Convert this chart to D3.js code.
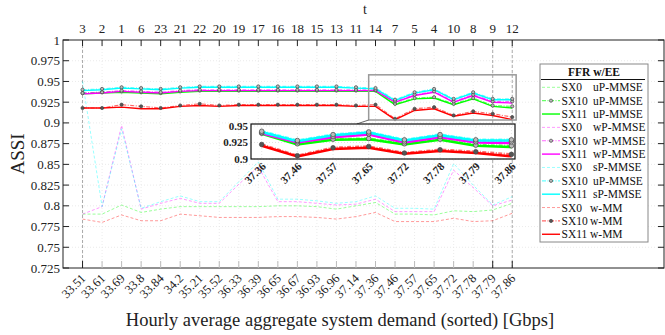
<!DOCTYPE html>
<html>
<head>
<meta charset="utf-8">
<script src="https://cdn.jsdelivr.net/npm/d3@7"></script>
<style>
  body { margin: 0; background: #fff; }
  svg { display: block; font-family: 'Liberation Serif', 'Times New Roman', serif; }
</style>
</head>
<body>
<div id="chart"></div>
<script>
// categories
const demand = ['33.51', '33.61', '33.69', '33.8', '33.84', '34.2', '35.21', '35.52', '36.33', '36.39', '36.65', '36.67',
  '36.93', '36.96', '37.14', '37.36', '37.46', '37.57', '37.65', '37.72', '37.78', '37.79', '37.86']
const hours = [3, 2, 1, 6, 23, 21, 22, 20, 19, 17, 16, 18, 15, 13, 11, 14, 7, 5, 4, 10, 8, 9, 12]
const yTicks = [0.725, 0.75, 0.775, 0.8, 0.825, 0.85, 0.875, 0.9, 0.925, 0.95, 0.975, 1]
const insetTicks = [0.9, 0.925, 0.95]

// series values (ASSI)
const uP_SX0 = [0.790, 0.790, 0.801, 0.792, 0.796, 0.799, 0.799, 0.799, 0.799, 0.799, 0.800, 0.800, 0.799, 0.796, 0.800, 0.804, 0.790, 0.790, 0.789, 0.794, 0.793, 0.795, 0.803]
const wP_SX0 = [0.790, 0.799, 0.897, 0.796, 0.803, 0.809, 0.803, 0.803, 0.826, 0.847, 0.805, 0.805, 0.803, 0.801, 0.802, 0.808, 0.793, 0.793, 0.793, 0.843, 0.822, 0.800, 0.807]
const sP_SX0 = [0.950, 0.799, 0.893, 0.797, 0.805, 0.812, 0.805, 0.805, 0.829, 0.853, 0.808, 0.808, 0.806, 0.803, 0.805, 0.812, 0.797, 0.797, 0.796, 0.851, 0.825, 0.801, 0.811]
const mm_SX0 = [0.784, 0.780, 0.789, 0.782, 0.782, 0.790, 0.788, 0.786, 0.786, 0.786, 0.787, 0.787, 0.786, 0.784, 0.787, 0.792, 0.781, 0.781, 0.781, 0.785, 0.781, 0.782, 0.791]

const uP_SX10 = [0.936, 0.937, 0.938, 0.937, 0.936, 0.938, 0.939, 0.939, 0.939, 0.939, 0.939, 0.939, 0.939, 0.939, 0.939, 0.939, 0.923, 0.930, 0.931, 0.923, 0.930, 0.921, 0.920]
const uP_SX11 = [0.935, 0.936, 0.937, 0.936, 0.935, 0.937, 0.938, 0.938, 0.938, 0.938, 0.938, 0.938, 0.938, 0.938, 0.938, 0.938, 0.922, 0.929, 0.930, 0.922, 0.929, 0.920, 0.918]
const wP_SX10 = [0.936, 0.937, 0.939, 0.938, 0.937, 0.939, 0.940, 0.940, 0.940, 0.940, 0.940, 0.940, 0.940, 0.940, 0.940, 0.940, 0.926, 0.934, 0.938, 0.926, 0.934, 0.926, 0.926]
const wP_SX11 = [0.935, 0.936, 0.938, 0.937, 0.936, 0.938, 0.939, 0.939, 0.939, 0.939, 0.939, 0.939, 0.939, 0.939, 0.939, 0.939, 0.925, 0.933, 0.937, 0.925, 0.933, 0.925, 0.924]
const sP_SX10 = [0.940, 0.941, 0.943, 0.942, 0.941, 0.943, 0.944, 0.944, 0.944, 0.944, 0.944, 0.944, 0.944, 0.944, 0.943, 0.942, 0.928, 0.937, 0.941, 0.929, 0.937, 0.929, 0.929]
const sP_SX11 = [0.939, 0.940, 0.942, 0.941, 0.940, 0.942, 0.943, 0.943, 0.943, 0.943, 0.943, 0.943, 0.943, 0.943, 0.942, 0.941, 0.927, 0.936, 0.940, 0.928, 0.936, 0.928, 0.928]
const mm_SX10 = [0.918, 0.918, 0.922, 0.920, 0.918, 0.921, 0.923, 0.921, 0.922, 0.922, 0.922, 0.922, 0.922, 0.922, 0.921, 0.922, 0.905, 0.917, 0.919, 0.909, 0.914, 0.911, 0.907]
const mm_SX11 = [0.918, 0.918, 0.919, 0.917, 0.917, 0.920, 0.921, 0.920, 0.921, 0.921, 0.921, 0.921, 0.921, 0.921, 0.920, 0.920, 0.904, 0.915, 0.917, 0.908, 0.912, 0.909, 0.904]

// legend order
const series = [
  { sx: 'SX0', name: 'uP-MMSE', values: uP_SX0, color: '#00ff00', kind: 0 },
  { sx: 'SX10', name: 'uP-MMSE', values: uP_SX10, color: '#00ff00', kind: 1 },
  { sx: 'SX11', name: 'uP-MMSE', values: uP_SX11, color: '#00ff00', kind: 2 },
  { sx: 'SX0', name: 'wP-MMSE', values: wP_SX0, color: '#ff00ff', kind: 0 },
  { sx: 'SX10', name: 'wP-MMSE', values: wP_SX10, color: '#ff00ff', kind: 1 },
  { sx: 'SX11', name: 'wP-MMSE', values: wP_SX11, color: '#ff00ff', kind: 2 },
  { sx: 'SX0', name: 'sP-MMSE', values: sP_SX0, color: '#00ffff', kind: 0 },
  { sx: 'SX10', name: 'uP-MMSE', values: sP_SX10, color: '#00ffff', kind: 1 },
  { sx: 'SX11', name: 'sP-MMSE', values: sP_SX11, color: '#00ffff', kind: 2 },
  { sx: 'SX0', name: 'w-MM', values: mm_SX0, color: '#ff0000', kind: 0 },
  { sx: 'SX10', name: 'w-MM', values: mm_SX10, color: '#ff0000', kind: 1 },
  { sx: 'SX11', name: 'w-MM', values: mm_SX11, color: '#ff0000', kind: 2 },
]
const markedIdx = [0, 21, 22] // categories with dashed guide lines

// size
const W = 665, H = 335
const plot = { left: 63, right: 664, top: 40, bottom: 268 }

// scale
const x = d3.scaleLinear().domain([0, 30.77]).range([plot.left, plot.right])
const y = d3.scaleLinear().domain([0.725, 1]).range([plot.bottom, plot.top])

const svg = d3.select('#chart').append('svg').attr('width', W).attr('height', H)

// grid
const grid = svg.append('g').attr('stroke', '#e6e6e6').attr('stroke-dasharray', '1,2').attr('stroke-width', 0.8)
grid.selectAll('line.gy').data(yTicks.slice(1, -1)).join('line')
  .attr('x1', plot.left).attr('x2', plot.right).attr('y1', d => y(d)).attr('y2', d => y(d))
grid.selectAll('line.gx').data(demand).join('line')
  .attr('x1', (d, i) => x(i + 1)).attr('x2', (d, i) => x(i + 1)).attr('y1', plot.top).attr('y2', plot.bottom)

// dashed guide lines
svg.append('g').selectAll('line').data(markedIdx).join('line')
  .attr('x1', d => x(d + 1)).attr('x2', d => x(d + 1))
  .attr('y1', plot.top).attr('y2', plot.bottom)
  .attr('stroke', '#aaa').attr('stroke-width', 1).attr('stroke-dasharray', '3,2')

function styleLine(sel, s, big) {
  if (s.kind === 0) {
    sel.attr('stroke', s.color).attr('stroke-opacity', 0.4).attr('stroke-width', big ? 1.5 : 1).attr('stroke-dasharray', '3,2')
  } else if (s.kind === 1) {
    sel.attr('stroke', s.color).attr('stroke-opacity', 0.6).attr('stroke-width', big ? 2.5 : 1.2).attr('stroke-dasharray', '4,1.5,1,1.5')
  } else {
    sel.attr('stroke', s.color).attr('stroke-width', big ? 2.5 : 1.4)
  }
}

function drawSeries(g, xs, ys, big) {
  series.forEach(s => {
    const vals = s.values.map((v, i) => ({ v, i })).filter(d => d.i + 1 >= xs.domain()[0] - 0.5)
    const ln = d3.line().x(d => xs(d.i + 1)).y(d => ys(d.v))
    g.append('path').datum(vals).attr('fill', 'none').attr('d', ln).call(styleLine, s, big)
  })
  series.filter(s => s.kind === 1).forEach(s => {
    const vals = s.values.map((v, i) => ({ v, i })).filter(d => d.i + 1 >= xs.domain()[0] - 0.5)
    g.append('g').selectAll('circle').data(vals).join('circle')
      .attr('cx', d => xs(d.i + 1)).attr('cy', d => ys(d.v))
      .attr('r', big ? 2.3 : 1.6)
      .attr('fill', s.color === '#ff0000' ? '#555' : '#bbb')
      .attr('stroke', '#444').attr('stroke-width', 0.7)
  })
}

const clipMain = svg.append('clipPath').attr('id', 'clip-main')
clipMain.append('rect').attr('x', plot.left).attr('y', plot.top).attr('width', plot.right - plot.left).attr('height', plot.bottom - plot.top)
drawSeries(svg.append('g').attr('clip-path', 'url(#clip-main)'), x, y, false)

// axes box
svg.append('rect').attr('x', plot.left).attr('y', plot.top)
  .attr('width', plot.right - plot.left).attr('height', plot.bottom - plot.top)
  .attr('fill', 'none').attr('stroke', '#222').attr('stroke-width', 1)

// y ticks left + right
const yt = svg.append('g')
yt.selectAll('line.l').data(yTicks).join('line')
  .attr('x1', plot.left).attr('x2', plot.left + 6).attr('y1', d => y(d)).attr('y2', d => y(d)).attr('stroke', '#222')
yt.selectAll('line.r').data(yTicks).join('line')
  .attr('x1', plot.right - 6).attr('x2', plot.right).attr('y1', d => y(d)).attr('y2', d => y(d)).attr('stroke', '#222')
yt.selectAll('text').data(yTicks).join('text')
  .attr('x', plot.left - 3).attr('y', d => y(d) + 4.5)
  .attr('text-anchor', 'end').attr('font-size', 13).attr('fill', '#222')
  .text(d => d)

// bottom ticks + labels
const xb = svg.append('g')
xb.selectAll('line').data(demand).join('line')
  .attr('x1', (d, i) => x(i + 1)).attr('x2', (d, i) => x(i + 1))
  .attr('y1', plot.bottom).attr('y2', plot.bottom - 7)
  .attr('stroke', (d, i) => markedIdx.includes(i) ? '#222' : '#bbb')
xb.selectAll('text').data(demand).join('text')
  .attr('transform', (d, i) => `translate(${x(i + 1) + 4},${plot.bottom + 11}) rotate(-45)`)
  .attr('text-anchor', 'end').attr('font-size', 12.5).attr('fill', '#222')
  .text(d => d)

// top ticks + labels
const xt = svg.append('g')
xt.selectAll('line').data(hours).join('line')
  .attr('x1', (d, i) => x(i + 1)).attr('x2', (d, i) => x(i + 1))
  .attr('y1', plot.top).attr('y2', plot.top + 6).attr('stroke', '#222')
xt.selectAll('text').data(hours).join('text')
  .attr('x', (d, i) => x(i + 1)).attr('y', plot.top - 7)
  .attr('text-anchor', 'middle').attr('font-size', 13).attr('fill', '#222')
  .text(d => d)

// axis titles
svg.append('text').attr('x', 365).attr('y', 14).attr('text-anchor', 'middle')
  .attr('font-size', 14).attr('fill', '#222').text('t')
svg.append('text').attr('x', 340).attr('y', 326).attr('text-anchor', 'middle')
  .attr('font-size', 18.5).attr('fill', '#222')
  .text('Hourly average aggregate system demand (sorted) [Gbps]')
svg.append('text').attr('transform', `translate(24,${(plot.top + plot.bottom) / 2}) rotate(-90)`)
  .attr('text-anchor', 'middle').attr('font-size', 19).attr('fill', '#222').text('ASSI')

// zoom rectangle on main plot
const zr = { x0: 15.65, x1: 23.2, y0: 0.9035, y1: 0.958 }
svg.append('rect').attr('x', x(zr.x0)).attr('y', y(zr.y1))
  .attr('width', x(zr.x1) - x(zr.x0)).attr('height', y(zr.y0) - y(zr.y1))
  .attr('fill', 'none').attr('stroke', '#999').attr('stroke-width', 1.5)

// inset
const inset = { left: 251, right: 515, top: 124, bottom: 159 }
const xi = d3.scaleLinear().domain([15.7, 23.1]).range([inset.left, inset.right])
const yi = d3.scaleLinear().domain([0.9, 0.953]).range([inset.bottom, inset.top])

svg.append('line').attr('x1', x(zr.x0)).attr('y1', y(zr.y0)).attr('x2', x(zr.x0) - 12).attr('y2', inset.top)
  .attr('stroke', '#666').attr('stroke-width', 1)

svg.append('rect').attr('x', inset.left).attr('y', inset.top)
  .attr('width', inset.right - inset.left).attr('height', inset.bottom - inset.top).attr('fill', '#fff')

const ig = svg.append('g').attr('stroke', '#ddd').attr('stroke-dasharray', '1,2').attr('stroke-width', 0.8)
ig.selectAll('line.h').data(insetTicks).join('line')
  .attr('x1', inset.left).attr('x2', inset.right).attr('y1', d => yi(d)).attr('y2', d => yi(d))
ig.selectAll('line.v').data(demand.slice(15)).join('line')
  .attr('x1', (d, i) => xi(i + 16)).attr('x2', (d, i) => xi(i + 16)).attr('y1', inset.top).attr('y2', inset.bottom)

const clipIn = svg.append('clipPath').attr('id', 'clip-inset')
clipIn.append('rect').attr('x', inset.left).attr('y', inset.top).attr('width', inset.right - inset.left).attr('height', inset.bottom - inset.top)
drawSeries(svg.append('g').attr('clip-path', 'url(#clip-inset)'), xi, yi, true)

svg.append('rect').attr('x', inset.left).attr('y', inset.top)
  .attr('width', inset.right - inset.left).attr('height', inset.bottom - inset.top)
  .attr('fill', 'none').attr('stroke', '#111').attr('stroke-width', 1.2)

svg.append('g').selectAll('text').data(insetTicks).join('text')
  .attr('x', inset.left - 3).attr('y', d => yi(d) + 4)
  .attr('text-anchor', 'end').attr('font-size', 11).attr('font-weight', 'bold').attr('fill', '#222')
  .text(d => d)
svg.append('g').selectAll('text').data(demand.slice(15)).join('text')
  .attr('transform', (d, i) => `translate(${xi(i + 16) + 5},${inset.bottom + 8}) rotate(-45)`)
  .attr('text-anchor', 'end').attr('font-size', 11).attr('font-weight', 'bold').attr('fill', '#222')
  .text(d => d)

// legend
const lg = { x: 540, y: 64, w: 108, h: 178 }
const legend = svg.append('g')
legend.append('rect').attr('x', lg.x).attr('y', lg.y).attr('width', lg.w).attr('height', lg.h)
  .attr('fill', '#fff').attr('stroke', '#888').attr('stroke-width', 1)
legend.append('text').attr('x', lg.x + lg.w / 2).attr('y', lg.y + 12)
  .attr('text-anchor', 'middle').attr('font-size', 11.5).attr('font-weight', 'bold').attr('fill', '#111').text('FFR w/EE')
legend.append('line').attr('x1', lg.x + 1).attr('x2', lg.x + lg.w - 3).attr('y1', lg.y + 15.5).attr('y2', lg.y + 15.5)
  .attr('stroke', '#111')

const rows = legend.selectAll('g.row').data(series).join('g')
  .attr('transform', (d, i) => `translate(0,${lg.y + 23.3 + i * 13.36})`)
rows.each(function (s) {
  const r = d3.select(this)
  r.append('line').attr('x1', lg.x + 2).attr('x2', lg.x + 20).attr('y1', 0).attr('y2', 0).call(styleLine, s, false)
  if (s.kind === 1) {
    r.append('circle').attr('cx', lg.x + 11).attr('cy', 0).attr('r', 1.6)
      .attr('fill', s.color === '#ff0000' ? '#555' : '#bbb').attr('stroke', '#444').attr('stroke-width', 0.7)
  }
  r.append('text').attr('x', lg.x + 21.5).attr('y', 4).attr('font-size', 11.5).attr('fill', '#111').text(s.sx)
  r.append('text').attr('x', s.name === 'w-MM' ? lg.x + 50 : lg.x + 53).attr('y', 4)
    .attr('font-size', 11.5).attr('fill', '#111').text(s.name)
})
</script>
</body>
</html>
